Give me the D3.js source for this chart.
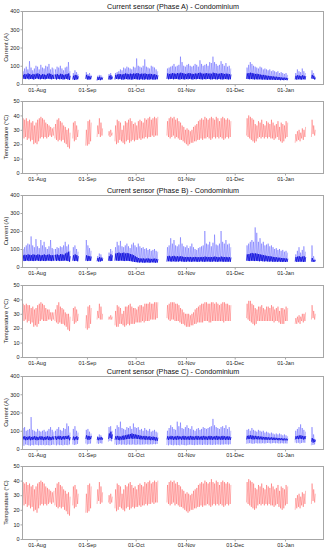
<!DOCTYPE html>
<html>
<head>
<meta charset="utf-8">
<script src="https://cdn.jsdelivr.net/npm/d3@7"></script>
<style>
  body { margin: 0; background: #fff; }
  text { font-family: "Liberation Sans", Arial, sans-serif; }
</style>
</head>
<body>
<script>
// day 0 = 23-Jul ; recorded day ranges (logger gaps in between)
var spans = [[0,19],[20,29],[31,34],[39,42],[46,49],[53,55],[57,83],[89,128],[138,163],[168,174],[178,180]];

// ---- Phase A ----
var curPeakA = [70,85,95,80,125,90,75,85,100,95,80,105,90,85,100,95,110,80,90,85,
  80,95,90,100,85,75,90,95,120,70, 60,75,65,55, 65,55,60,50, 45,50,48,40, 55,60,45,
  60,65,70,80,75,90,85,95,90,85,80,95,90,140,100,95,90,100,135,95,90,85,100,95,90,80,70,
  85,90,95,100,110,95,100,105,150,120,100,95,105,110,100,95,100,110,105,95,130,110,100,105,110,100,120,115,150,120,110,100,105,125,110,100,115,95,100,85,
  90,105,120,110,100,95,90,85,95,90,80,85,80,75,80,70,75,70,65,70,60,65,60,55,60,50,
  60,80,70,65,85,70,60, 75,60,40];
var curLoA = [25,28,27,30,26,28,27,25,28,30,27,26,28,27,26,28,30,27,26,28,
  27,25,28,26,27,25,26,28,25,22, 25,22,24,26, 28,25,24,26, 20,22,21,24, 25,24,26,
  25,28,26,27,25,24,26,27,25,26,24,25,27,26,25,24,26,25,24,26,25,24,26,25,24,25,26,
  28,26,27,28,26,27,28,26,25,27,26,25,27,26,28,26,25,27,26,28,27,26,25,27,26,28,27,25,26,27,26,25,27,26,25,26,27,26,25,26,
  28,27,26,27,26,25,26,25,26,25,24,25,24,23,24,23,24,23,22,23,22,21,22,21,22,21,
  25,24,26,25,24,26,25, 30,28,25];
var curHiA = [50,55,52,58,55,50,55,52,56,58,54,50,55,52,50,56,58,55,50,52,
  52,55,50,56,54,50,52,55,58,45, 45,50,48,42, 50,45,42,44, 38,40,36,35, 45,48,40,
  50,52,55,54,52,55,58,56,54,57,55,58,56,60,58,55,57,56,58,55,54,56,55,52,54,50,48,
  58,55,57,60,58,56,60,58,62,60,58,55,57,60,58,56,55,58,57,60,62,58,56,58,60,57,58,56,62,60,58,56,57,60,58,55,57,56,54,52,
  58,60,62,60,58,55,56,54,52,50,50,48,46,45,44,42,42,40,40,38,38,36,35,35,34,33,
  45,48,46,44,48,45,43, 50,45,35];
var tempMaxA = [38,37,38,36,37,35,36,33,35,37,38,39,38,37,35,34,33,32,31,32,
  34,37,38,36,35,33,32,30,31,28, 35,36,33,30, 30,36,37,35, 33,38,35,31, 29,30,28,
  33,37,36,35,30,33,36,35,37,38,36,34,35,33,36,37,36,35,38,37,38,39,37,38,39,38,39,
  36,38,39,38,39,37,38,36,35,33,32,30,31,30,29,30,32,33,34,36,37,38,37,39,38,37,38,39,38,37,39,38,36,38,39,38,37,38,37,36,
  38,40,39,38,37,34,33,36,35,37,34,33,36,35,34,37,35,33,34,36,32,35,34,33,36,35,
  27,29,30,28,31,30,32, 37,33,30];
var tempMinA = [26,24,25,23,24,22,23,20,21,20,22,24,25,24,25,24,25,26,25,26,
  24,23,22,23,22,23,21,20,18,17, 24,22,23,25, 19,19,20,22, 25,27,25,26, 26,25,26,
  22,20,21,23,22,21,20,22,23,21,22,23,22,23,23,24,23,24,24,25,24,25,25,26,25,26,26,
  26,25,24,25,26,24,25,24,23,23,22,21,20,19,20,21,21,22,22,23,23,24,23,24,24,25,24,23,24,25,24,25,24,25,24,23,24,25,24,25,
  26,25,24,23,22,21,22,24,25,24,25,24,25,24,25,24,24,23,24,25,23,22,21,22,24,25,
  21,22,23,22,24,23,25, 25,27,26];

// ---- Phase B ----
var curPeakB = [100,110,120,130,125,170,120,110,155,115,105,150,120,140,110,100,115,150,105,100,
  100,110,105,115,110,120,140,115,125,90, 110,120,100,85, 150,120,105,90, 60,75,70,55, 80,100,90,
  110,140,120,145,115,110,120,130,115,105,125,135,120,110,130,115,105,110,100,105,95,100,90,95,100,90,85,
  110,120,160,130,150,120,115,125,165,130,115,110,120,105,115,130,110,100,95,105,110,115,120,200,130,125,140,115,135,180,125,120,130,200,140,130,150,125,130,110,
  120,130,140,150,140,220,190,140,160,130,140,120,125,130,115,120,110,100,105,95,100,90,95,85,90,80,
  70,90,110,80,95,115,85, 120,60,45];
var curLoB = [35,33,34,36,33,35,34,33,35,36,34,33,35,34,33,35,36,34,33,35,
  35,34,36,33,35,34,36,35,33,30, 35,33,34,32, 35,33,34,35, 32,30,31,33, 35,33,34,
  35,36,34,35,36,34,33,35,34,33,32,30,28,27,26,25,26,25,24,25,26,24,25,26,25,24,25,
  30,32,31,30,32,30,31,30,32,31,30,29,30,31,30,29,30,31,30,29,30,31,30,29,30,31,30,29,30,31,30,29,30,31,30,29,30,29,30,29,
  35,34,33,35,34,33,34,33,32,33,32,31,32,31,30,31,30,29,30,29,30,29,28,29,28,29,
  30,28,30,29,30,28,29, 30,28,30];
var curHiB = [65,68,66,70,68,66,70,68,66,70,68,65,67,70,66,68,70,66,65,67,
  68,70,66,72,70,68,75,80,85,60, 65,70,66,60, 65,62,60,58, 50,55,52,48, 60,70,65,
  75,78,80,76,78,80,75,78,76,72,70,66,60,55,50,48,47,48,46,47,48,46,45,46,47,45,44,
  60,62,58,60,62,58,60,58,60,58,56,55,56,55,56,54,55,56,55,54,55,56,55,58,56,55,56,55,56,58,56,55,54,58,56,55,56,54,55,53,
  70,72,75,78,75,76,74,72,70,68,66,64,62,60,60,58,56,55,54,52,52,50,50,48,48,46,
  55,58,60,56,58,60,55, 50,40,38];
var tempMaxB = [37,36,37,36,36,34,35,33,34,36,37,38,37,36,34,33,33,31,31,31,
  33,36,38,35,34,33,31,30,30,28, 34,35,33,30, 29,35,36,34, 32,37,35,30, 28,29,28,
  32,36,35,34,30,32,35,35,36,37,35,34,34,33,35,36,36,35,37,37,37,38,37,37,38,38,38,
  36,37,38,38,38,37,37,36,34,33,31,30,30,30,29,30,31,33,34,35,36,37,37,38,38,37,37,38,38,37,38,37,36,37,38,38,37,37,36,36,
  37,39,39,37,36,34,33,35,35,36,34,33,35,35,34,36,35,33,34,35,32,34,34,33,35,34,
  27,28,29,28,30,30,31, 36,32,30];
var tempMinB = [27,25,26,24,25,23,24,21,22,21,23,25,26,25,25,25,26,26,25,26,
  25,24,23,24,23,23,22,21,19,18, 25,23,24,25, 20,19,20,23, 26,27,26,26, 26,26,26,
  22,21,21,23,23,22,21,22,23,22,23,23,23,24,24,24,24,25,24,25,25,25,26,26,26,26,27,
  27,26,25,26,26,25,25,25,24,23,23,22,21,21,21,22,22,23,23,24,24,24,24,25,25,25,24,24,25,25,25,25,25,25,25,24,25,25,25,25,
  27,26,25,24,23,22,23,25,25,25,25,25,25,25,25,25,25,24,25,25,24,23,23,23,25,25,
  23,23,24,23,25,24,25, 26,27,26];

// ---- Phase C ----
var curPeakC = [115,120,100,105,110,175,105,100,95,110,100,95,100,105,95,100,110,120,105,95,
  100,110,120,105,100,115,110,140,125,90, 110,125,100,90, 105,110,95,85, 70,80,75,65, 120,125,100,
  110,130,120,150,115,110,105,120,115,125,110,140,120,115,120,105,110,100,115,105,100,110,95,100,105,95,90,
  100,115,130,120,110,105,150,125,145,115,110,120,130,115,110,125,105,100,110,115,105,110,120,115,110,115,120,125,165,130,120,115,110,120,125,115,130,110,120,100,
  105,110,100,115,105,100,95,105,100,95,100,90,95,90,85,90,85,80,85,80,85,80,75,80,75,70,
  100,110,120,135,115,105,95, 120,80,55];
var curFloorC = [20,18,25,22,20,18,22,20,24,22,20,22,21,23,20,22,21,20,22,24,
  22,20,24,21,22,20,23,22,21,25, 25,22,24,28, 30,25,28,30, 30,28,32,30, 40,45,42,
  25,22,24,26,23,25,24,22,25,24,23,25,24,22,25,24,23,25,24,26,25,24,26,25,27,26,28,
  22,20,24,22,20,23,21,22,20,24,22,21,20,22,24,23,22,21,23,22,24,23,22,24,23,22,24,23,22,24,23,25,24,23,25,24,26,25,24,26,
  28,30,32,30,28,30,32,30,31,30,32,30,31,33,32,30,32,33,31,32,30,31,32,30,31,30,
  35,32,34,30,33,35,34, 20,22,25];
var curLoC = [50,52,48,50,52,48,50,52,50,48,50,52,50,48,50,52,50,48,50,52,
  52,50,54,52,50,53,52,55,54,48, 50,48,52,50, 55,52,50,54, 50,48,52,50, 55,60,55,
  50,52,50,48,52,50,52,54,55,56,58,55,58,56,55,54,52,53,52,50,52,50,48,50,48,46,45,
  52,50,53,52,50,52,50,52,53,50,52,50,52,51,50,52,50,51,52,50,52,51,50,52,51,50,52,51,50,52,51,50,52,51,50,52,50,51,50,50,
  52,54,55,54,52,53,54,52,53,52,51,52,50,51,50,51,50,49,50,49,48,49,48,47,48,47,
  52,55,54,56,55,52,54, 40,35,38];
var curHiC = [68,70,66,68,70,66,68,70,68,66,68,70,68,66,68,70,68,66,68,70,
  70,68,72,70,68,71,70,72,74,65, 68,66,70,65, 75,72,70,72, 65,62,66,60, 85,95,80,
  70,72,70,68,72,74,75,78,80,82,85,82,80,78,76,74,72,70,72,70,68,70,66,68,66,64,62,
  70,68,72,70,68,70,72,70,68,70,72,70,68,70,72,70,68,70,72,70,68,70,72,70,68,70,72,70,68,70,72,70,68,70,72,70,68,70,68,66,
  72,74,75,74,72,72,70,70,68,68,66,66,65,64,63,64,62,62,61,60,60,59,58,58,57,56,
  70,72,74,75,72,70,71, 60,55,50];
var tempMaxC = [39,38,39,37,38,36,37,34,36,38,39,40,39,38,36,35,34,33,32,33,
  35,38,39,37,36,34,33,31,32,29, 36,37,34,31, 31,37,38,36, 34,39,36,32, 30,31,29,
  34,38,37,36,31,34,37,36,38,39,37,35,36,34,37,38,37,36,39,38,39,40,38,39,40,39,40,
  37,39,40,39,40,38,39,37,36,34,33,31,32,31,30,31,33,34,35,37,38,39,38,40,39,38,39,41,39,38,40,39,37,39,40,39,38,39,38,37,
  39,41,40,39,38,35,34,37,36,38,35,34,37,36,35,38,36,34,35,37,33,36,35,34,37,36,
  28,30,31,29,32,31,33, 38,34,31];
var tempMinC = [25,23,24,22,23,21,22,19,20,18,21,23,24,23,24,23,24,25,24,25,
  23,22,21,22,21,22,20,19,17,16, 23,21,22,24, 18,18,19,21, 24,26,24,25, 25,24,25,
  21,19,20,22,21,20,19,21,22,20,21,22,21,22,22,23,22,23,23,24,23,24,24,25,24,25,25,
  25,24,23,24,25,23,24,23,22,22,21,20,19,18,19,20,20,21,21,22,22,23,22,23,23,24,23,22,23,24,23,24,23,24,23,22,23,24,23,24,
  25,24,23,22,21,20,21,23,24,23,24,23,24,23,24,23,23,22,23,24,22,21,20,21,23,24,
  20,21,22,21,23,22,24, 24,26,25];

var currentTicks = [0, 100, 200, 300, 400];
var tempTicks = [0, 10, 20, 30, 40, 50];

var width = 331, height = 550;
var left = 22, right = 324;
var start = new Date(2019, 6, 23);

var svg = d3.select("body").append("svg")
    .attr("width", width)
    .attr("height", height);

var x = d3.scaleTime()
    .domain([start, new Date(2020, 0, 25)])
    .range([left, right]);

function when(dayFrac) {
  return new Date(start.getTime() + dayFrac * 864e5);
}

// one zigzag per recorded span: value a at t1, value b at t2 of each day
function zigzag(a, b, t1, t2) {
  var out = [], k = 0;
  spans.forEach(function(s) {
    var pts = [];
    for (var d = s[0]; d <= s[1]; d++, k++) {
      pts.push([d + t1, a[k]]);
      pts.push([d + t2, b[k]]);
    }
    out.push(pts);
  });
  return out;
}

var panels = [
  {top: 11, bottom: 84, kind: "cur", title: "Current sensor (Phase A) - Condominium", peak: curPeakA, lo: curLoA, hi: curHiA},
  {top: 101, bottom: 173, kind: "temp", max: tempMaxA, min: tempMinA},
  {top: 195, bottom: 267, kind: "cur", title: "Current sensor (Phase B) - Condominium", peak: curPeakB, lo: curLoB, hi: curHiB},
  {top: 285, bottom: 357, kind: "temp", max: tempMaxB, min: tempMinB},
  {top: 376, bottom: 449, kind: "cur", title: "Current sensor (Phase C) - Condominium", peak: curPeakC, lo: curLoC, hi: curHiC, floor: curFloorC},
  {top: 466, bottom: 539, kind: "temp", max: tempMaxC, min: tempMinC}
];

panels.forEach(function(p, i) {
  var g = svg.append("g");
  var y = d3.scaleLinear()
      .domain(p.kind == "cur" ? [0, 400] : [0, 50])
      .range([p.bottom, p.top]);

  var line = d3.line()
      .x(function(d) { return x(when(d[0])); })
      .y(function(d) { return y(d[1]); });

  g.append("clipPath").attr("id", "clip" + i)
    .append("rect")
      .attr("x", left).attr("y", p.top)
      .attr("width", right - left).attr("height", p.bottom - p.top);

  var plot = g.append("g").attr("clip-path", "url(#clip" + i + ")");

  if (p.kind == "cur") {
    plot.selectAll("path.light")
        .data(zigzag(p.floor || p.lo, p.peak, 0.2, 0.6))
      .enter().append("path")
        .attr("class", "light")
        .attr("d", line)
        .style("fill", "none")
        .style("stroke", "#0000ff")
        .style("stroke-opacity", 0.3)
        .style("stroke-width", 0.9);
    plot.selectAll("path.dark")
        .data(zigzag(p.lo, p.hi, 0.3, 0.75))
      .enter().append("path")
        .attr("class", "dark")
        .attr("d", line)
        .style("fill", "none")
        .style("stroke", "#0000d8")
        .style("stroke-opacity", 0.8)
        .style("stroke-width", 0.9);
  } else {
    plot.selectAll("path.temp")
        .data(zigzag(p.min, p.max, 0.25, 0.65))
      .enter().append("path")
        .attr("class", "temp")
        .attr("d", line)
        .style("fill", "none")
        .style("stroke", "#ff0000")
        .style("stroke-opacity", 0.3)
        .style("stroke-width", 0.9);
  }

  // frame
  g.append("rect")
      .attr("x", left + 0.5).attr("y", p.top + 0.5)
      .attr("width", right - left - 1).attr("height", p.bottom - p.top)
      .style("fill", "none")
      .style("stroke", "#a6a6a6")
      .style("stroke-width", 1);

  var yAxis = g.append("g")
      .attr("transform", "translate(" + (left + 0.5) + ",0)")
      .call(d3.axisLeft(y)
        .tickValues(p.kind == "cur" ? currentTicks : tempTicks)
        .tickSize(2).tickPadding(1));
  var xAxis = g.append("g")
      .attr("transform", "translate(0," + (p.bottom + 0.5) + ")")
      .call(d3.axisBottom(x)
        .ticks(d3.timeMonth.every(1))
        .tickFormat(d3.timeFormat("%d-%b"))
        .tickSize(2).tickPadding(1.5));

  [yAxis, xAxis].forEach(function(a) {
    a.select(".domain").remove();
    a.selectAll("line").style("stroke", "#a6a6a6");
    a.selectAll("text").style("font-size", "5.5px").style("fill", "#222")
      .style("font-family", "'Liberation Sans', Arial, sans-serif");
  });

  g.append("text")
      .attr("transform", "translate(8," + ((p.top + p.bottom) / 2) + ") rotate(-90)")
      .attr("text-anchor", "middle")
      .style("font-size", "5.8px")
      .style("fill", "#222")
      .text(p.kind == "cur" ? "Current (A)" : "Temperature (\u00B0C)");

  if (p.title) {
    g.append("text")
        .attr("x", (left + right) / 2)
        .attr("y", p.top - 2)
        .attr("text-anchor", "middle")
        .style("font-size", "7.2px")
        .style("fill", "#111")
        .text(p.title);
  }
});
</script>
</body>
</html>
